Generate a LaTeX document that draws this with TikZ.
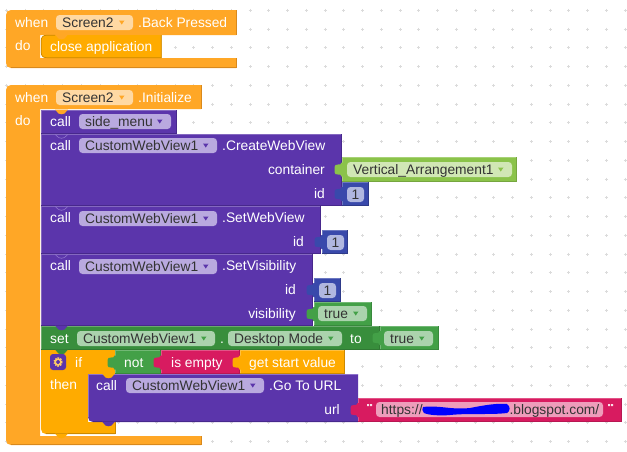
\documentclass[tikz,border=0pt]{standalone}
\usepackage{fontspec}
\setmainfont{Liberation Sans}
\definecolor{evt}{HTML}{FFA726}
\definecolor{evtD}{HTML}{D9891C}
\definecolor{evtF}{HTML}{FFD9A3}
\definecolor{amb}{HTML}{FFAB00}
\definecolor{ambD}{HTML}{CC8900}
\definecolor{pur}{HTML}{5B35AB}
\definecolor{purL}{HTML}{8E72CC}
\definecolor{purD}{HTML}{47288C}
\definecolor{purF}{HTML}{B9A9DF}
\definecolor{grn}{HTML}{43A047}
\definecolor{grnD}{HTML}{38893C}
\definecolor{grnS}{HTML}{388E3C}
\definecolor{grnF}{HTML}{ABD3AD}
\definecolor{lim}{HTML}{8BC34A}
\definecolor{limF}{HTML}{D1E7B5}
\definecolor{blu}{HTML}{3949AB}
\definecolor{bluF}{HTML}{B0B7E0}
\definecolor{cri}{HTML}{D81B60}
\definecolor{criF}{HTML}{EE9DBB}
\definecolor{txt}{HTML}{333333}
\tikzset{
  x=1pt,y=-1pt,
  lab/.style={anchor=base west,inner sep=0pt,text=white,font=\fontsize{13.8}{16}\selectfont},
  labr/.style={lab,anchor=base east},
  ftxt/.style={lab,text=txt},
  griddot/.style={draw=black!14,line width=.7pt}
}
% block: x1 y1 x2 y2 fill dark
\newcommand{\blk}[6]{%
  \fill[#5] (#1,#2) rectangle (#3,#4);
  \draw[#5!75!white,line width=.6pt] (#1+.3,#4) -- (#1+.3,#2+.3) -- (#3,#2+.3);
  \draw[#6,line width=.7pt] (#1,#4-.3) -- (#3-.3,#4-.3) -- (#3-.3,#2);
}
% puzzle tab: x centre-y colour
\newcommand{\tabb}[3]{%
  \fill[#3] (#1+1,#2-7) -- (#1-.5,#2-7) .. controls (#1-1,#2-5) and (#1-2,#2-4.5) .. (#1-4,#2-5)
    .. controls (#1-6,#2-5.5) and (#1-7.5,#2-4) .. (#1-7.5,#2-2.5)
    -- (#1-7.5,#2+2.5) .. controls (#1-7.5,#2+4) and (#1-6,#2+5.5) .. (#1-4,#2+5)
    .. controls (#1-2,#2+4.5) and (#1-1,#2+5) .. (#1-.5,#2+7) -- (#1+1,#2+7) -- cycle;
}
% statement bump: x y colour
\newcommand{\bump}[3]{%
  \fill[#3] (#1,#2-.5) -- (#1+3.5,#2+3.5) .. controls (#1+5,#2+4.5) and (#1+8,#2+4.5) .. (#1+9.5,#2+3.5) -- (#1+13,#2-.5) -- cycle;
}
\newcommand{\chev}[2]{%
  \draw[purL,line width=.6pt] (#1,#2+.3) -- (#1+3.5,#2+3.5) .. controls (#1+5,#2+4.5) and (#1+8,#2+4.5) .. (#1+9.5,#2+3.5) -- (#1+13,#2+.3);
}
% field: x1 x2 y1 name fill text arrow-colour
\newcommand{\fld}[7]{%
  \fill[#5,rounded corners=3.5pt] (#1+0,#3) rectangle (#2,#3+15);
  \fill[#7] (#2-14,#3+5.5) -- (#2-8.5,#3+5.5) -- (#2-11.25,#3+9.5) -- cycle;
  \node[ftxt] (#4) at (#1+6,#3+12) {#6};
}
\newcommand{\num}[3]{%
  \fill[bluF,rounded corners=3.5pt] (#1,#2) rectangle (#1+17,#2+15);
  \node[ftxt,anchor=base] (#3) at (#1+8.5,#2+12) {1};
}
\begin{document}
\begin{tikzpicture}
\useasboundingbox (0,0) rectangle (627,451);
\fill[white] (0,0) rectangle (627,451);
% background dots
\foreach \i in {0,...,33}{\foreach \j in {0,...,23}{
  \pgfmathsetmacro{\px}{6.25+18.75*\i}
  \pgfmathsetmacro{\py}{10.3+18.75*\j}
  \draw[griddot] (\px-1.5,\py) -- (\px+1.5,\py) (\px,\py-1.5) -- (\px,\py+1.5);
}}
% ---- first event
\fill[evt] (236,10) -- (236,35) -- (40,35) -- (40,58) -- (236,58) -- (236,68)
  -- (11,68) .. controls (8,68) and (6,66) .. (6,63) -- (6,15) .. controls (6,12) and (8,10) .. (11,10) -- cycle;
\draw[evtD,line width=.7pt] (236,10) -- (236,34.6) (236,58) -- (236,67.7) -- (11,67.7);
\node[lab] (w1) at (15,27) {when};
\fld{56}{133}{15}{s1}{evtF}{Screen2}{evt}
\node[lab] (bp) at (138,27) {.Back Pressed};
\node[lab] (d1) at (15,50) {do};
\fill[amb] (161.5,35) -- (47,35) .. controls (43,35) and (41,37) .. (41,41) -- (41,52) .. controls (41,56) and (43,58) .. (47,58) -- (161.5,58) -- cycle;
\draw[ambD,line width=.7pt] (55,35.2) -- (47,35.2) .. controls (43,35.2) and (41.2,37) .. (41.2,41) -- (41.2,52) .. controls (41.2,56) and (43,57.7) .. (47,57.7) -- (161.3,57.7) -- (161.3,35);
\node[lab] (ca) at (50,51) {close application};
\bump{55}{35}{evt}
% ---- second event
\fill[evt] (201,85) -- (201,109) -- (40,109) -- (40,436) -- (201,436) -- (201,445)
  -- (11,445) .. controls (8,445) and (6,443) .. (6,440) -- (6,90) .. controls (6,87) and (8,85) .. (11,85) -- cycle;
\draw[evtD,line width=.7pt] (201,85) -- (201,109) (201,436) -- (201,444.7) -- (11,444.7);
\node[lab] (w2) at (15,102) {when};
\fld{56}{133}{90}{s2}{evtF}{Screen2}{evt}
\node[lab] (ini) at (138,102) {.Initialize};
\node[lab] (d2) at (15,125) {do};
% side_menu
\blk{41}{110}{177}{134}{pur}{purD}
\bump{55}{110}{evt}
\node[lab] (c0) at (50,126) {call};
\fld{79}{171}{114}{sm}{purF}{side\_menu}{pur}
% CreateWebView
\blk{41}{134}{342}{206}{pur}{purD}
\chev{55}{134}
\node[lab] (c1) at (50,150) {call};
\fld{79}{217}{138}{f1}{purF}{CustomWebView1}{pur}
\node[lab] (m1) at (222,150) {.CreateWebView};
\node[labr] (con) at (325,174) {container};
\node[labr] (id1) at (325,198) {id};
\blk{342}{157}{517}{182}{lim}{lim!85!black}
\tabb{342}{169.5}{lim}
\fld{347}{512}{162}{va}{limF}{Vertical\_Arrangement1}{lim}
\blk{342}{182}{369}{206}{blu}{blu!80!black}
\tabb{342}{194}{blu}
\num{347}{187}{n1}
% SetWebView
\blk{41}{206}{321}{254}{pur}{purD}
\chev{55}{206}
\node[lab] (c2) at (50,222) {call};
\fld{79}{217}{211}{f2}{purF}{CustomWebView1}{pur}
\node[lab] (m2) at (222,222) {.SetWebView};
\node[labr] (id2) at (304,246) {id};
\blk{322}{230}{348}{254}{blu}{blu!80!black}
\tabb{322}{242}{blu}
\num{327}{235}{n2}
% SetVisibility
\blk{41}{254}{313}{326}{pur}{purD}
\chev{55}{254}
\node[lab] (c3) at (50,270) {call};
\fld{79}{217}{259}{f3}{purF}{CustomWebView1}{pur}
\node[lab] (m3) at (222,270) {.SetVisibility};
\node[labr] (id3) at (296,294) {id};
\node[labr] (vis) at (296,318) {visibility};
\blk{314}{278}{341}{302}{blu}{blu!80!black}
\tabb{314}{290}{blu}
\num{319}{283}{n3}
\blk{314}{302}{372}{326}{grn}{grnD}
\tabb{314}{314}{grn}
\fld{318}{367}{306}{t1}{grnF}{true}{grn}
% set
\blk{41}{326}{380}{350}{grnS}{grnS!85!black}
\bump{55}{326}{pur}
\node[lab] (st) at (50,343) {set};
\fld{77}{215}{331}{f4}{grnF}{CustomWebView1}{grn}
\node[lab] (dt) at (220,343) {.};
\fld{228}{342}{331}{dm}{grnF}{Desktop Mode}{grn}
\node[lab] (to) at (350,343) {to};
\blk{380}{326}{439}{350}{grn}{grnD}
\tabb{380}{338}{grn}
\fld{384}{433}{331}{t2}{grnF}{true}{grn}
% if
\fill[amb] (41,350) -- (115,350) -- (115,374) -- (88,374) -- (88,422) -- (115,422) -- (115,434)
  -- (46,434) .. controls (43,434) and (41,432) .. (41,429) -- cycle;
\draw[ambD,line width=.7pt] (115,422) -- (115,433.7) -- (46,433.7);
\bump{55}{350}{grnS}
\bump{55}{434}{amb}
\fill[pur,rounded corners=3pt] (50,354) rectangle (66,370);
\draw[amb!60!white,line width=2.6pt,dash pattern=on 1.2pt off 1pt] (58,362) circle (3.4);
\draw[amb!60!white,line width=1.4pt] (58,362) circle (3);
\fill[pur] (58,362) circle (1.4);
\node[lab] (ifl) at (75,367) {if};
\node[lab] (th) at (50,389) {then};
\blk{115}{350}{161}{374}{grn}{grnD}
\tabb{115}{362.5}{grn}
\node[lab] (no) at (124,367) {not};
\blk{161}{350}{240}{374}{cri}{cri!85!black}
\tabb{161}{362.5}{cri}
\node[lab] (ie) at (171,367) {is empty};
\blk{240}{350}{345}{373.5}{amb}{ambD}
\tabb{240}{362.5}{amb}
\node[lab] (gs) at (249,367) {get start value};
% go to url
\fill[pur] (88,374) -- (358,374) -- (358,422) -- (93,422) .. controls (90,422) and (88,420) .. (88,417) -- cycle;
\draw[purD,line width=.7pt] (93,421.7) -- (357.7,421.7);
\draw[purL,line width=.6pt] (88.3,417) -- (88.3,374.3) -- (358,374.3);
\bump{102}{374}{amb}
\bump{102}{422}{pur}
\node[lab] (c4) at (96,390) {call};
\fld{126}{264}{378}{f5}{purF}{CustomWebView1}{pur}
\node[lab] (m5) at (269,390) {.Go To URL};
\node[labr] (url) at (340,414) {url};
\blk{358}{397.5}{622}{422}{cri}{cri!85!black}
\tabb{358}{410}{cri}
\fill[white!85!cri] (367,404) rectangle +(2,2) (370,404) rectangle +(2,2)
  (608,404) rectangle +(2,2) (611,404) rectangle +(2,2);
\fill[criF,rounded corners=3.5pt] (376,402) rectangle (603,417);
\node[ftxt] (u1) at (381,414) {https://};
\node[ftxt,anchor=base east] (u2) at (599.5,414) {.blogspot.com/};
\fill[blue] (423,407) .. controls (440,405) and (450,410) .. (470,408)
  .. controls (485,405) and (498,403) .. (507,404)
  .. controls (510.5,406) and (510.5,411) .. (507,413)
  .. controls (490,415) and (470,413) .. (450,415)
  .. controls (440,416) and (428,415) .. (424,413)
  .. controls (422,411) and (422,409) .. (423,407) -- cycle;
\end{tikzpicture}
\end{document}
